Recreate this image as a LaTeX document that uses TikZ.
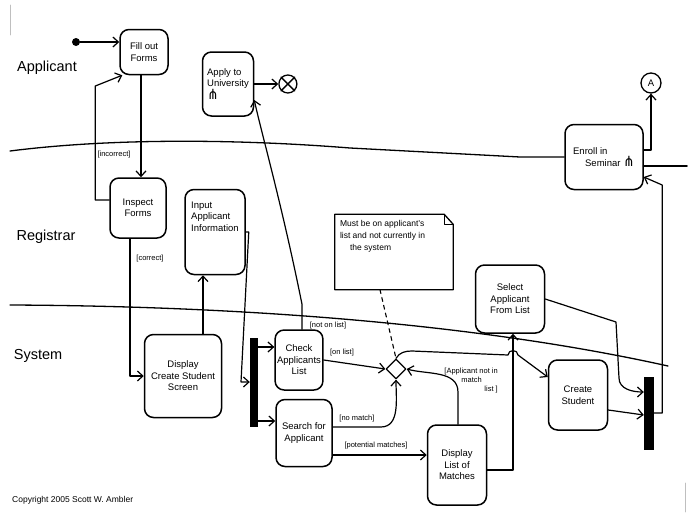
\documentclass[tikz,border=0pt]{standalone}
\usepackage{fontspec}
\setmainfont{Liberation Sans}
\newfontfamily\rakefont{DejaVu Sans}
\usetikzlibrary{arrows.meta,calc,positioning,shapes.geometric}
\newcommand{\rakesym}{{\rakefont\fontsize{14}{11}\selectfont ⋔}}
\tikzset{flow/.style={line width=1.2pt, -{Straight Barb[length=5.5pt,width=10pt]}},
  act/.style={draw, line width=1.5pt, rounded corners=9pt, align=center, inner sep=2pt,
    font=\fontsize{9.5}{11.5}\selectfont},
  guard/.style={inner sep=1pt, font=\fontsize{7.5}{9}\selectfont},
  lane/.style={line width=1.3pt},
  lanelbl/.style={font=\fontsize{14.5}{16}\selectfont},
  bar/.style={fill=black, inner sep=0pt, minimum width=8pt}}

\begin{document}
\begin{tikzpicture}[x=1pt, y=-1pt, line cap=round, line join=round, node distance=8mm]
  \useasboundingbox (0,0) rectangle (699,517);
  % lane names
  \node[lanelbl] (lapp) at (47,68) {Applicant};
  \node[lanelbl] (lreg) at (46,237) {Registrar};
  \node[lanelbl] (lsys) at (38,356) {System};

  % applicant lane
  \node[fill=black, circle, inner sep=0pt, minimum size=8pt] (start) at (76,42) {};
  \node[act, minimum width=48pt, minimum height=45pt] (fill) at (144,52) {Fill out\\Forms};
  \node[act, minimum width=51pt, minimum height=64pt, align=left] (apply) at (228,84) {Apply to\\University\\\rakesym};
  \node[draw, circle, line width=1.3pt, minimum size=18pt, inner sep=0pt, right=24pt of apply] (final) {};
  \draw[line width=1.3pt] (final.45) -- (final.225) (final.135) -- (final.-45);
  \node[act, minimum width=78pt, minimum height=65pt, align=left] (enroll) at (604,157) {Enroll in\\\hspace*{12pt}Seminar \rakesym};
  \node[draw, circle, line width=1.3pt, minimum size=20pt, inner sep=0pt, font=\fontsize{9.5}{10}\selectfont] (conA) at (651,83) {A};

  % registrar lane
  \node[act, minimum width=56pt, minimum height=60pt] (inspect) at (138,208) {Inspect\\Forms};
  \node[act, minimum width=60pt, minimum height=85pt, align=left] (input) at (215,232) {Input\\Applicant\\Information\\[20pt]\mbox{}};
  \node[minimum width=118pt, minimum height=75pt, inner sep=0pt] (note) at (394,252) {};
  \node[anchor=north west, align=left, inner sep=0pt, font=\fontsize{8.5}{12}\selectfont] (notetxt)
    at ([xshift=5pt,yshift=-6pt]note.north west) {Must be on applicant's\\list and not currently in\\\hspace*{10pt}the system};
  \draw[line width=1.3pt] (note.north west) -- ([xshift=-9pt]note.north east) -- ([yshift=-10pt]note.north east)
    -- (note.south east) -- (note.south west) -- cycle;
  \draw[line width=0.9pt] ([xshift=-9pt]note.north east) -- ([xshift=-9pt,yshift=-10pt]note.north east) -- ([yshift=-10pt]note.north east);
  \node[act, minimum width=69pt, minimum height=68pt] (select) at (510,299) {Select\\Applicant\\From List};

  % system lane
  \node[act, minimum width=77pt, minimum height=83pt] (dcss) at (183,376) {Display\\Create Student\\Screen};
  \node[bar, minimum height=89pt] (bar1) at (254,382) {};
  \node[act, minimum width=46pt, minimum height=60pt] (check) at (299,360) {Check\\Applicants\\List};
  \node[act, minimum width=56pt, minimum height=67pt] (search) at (304,433) {Search for\\Applicant};
  \node[diamond, draw, line width=1.3pt, fill=white, minimum size=20pt, inner sep=0pt] (dia) at (396,369) {};
  \node[act, minimum width=59pt, minimum height=80pt] (dlm) at (457,465) {Display\\List of\\Matches};
  \node[act, minimum width=59pt, minimum height=70pt] (create) at (578,395) {Create\\Student};
  \node[bar, minimum width=10pt, minimum height=73pt] (bar2) at (649,413) {};

  % lane dividers
  \draw[lane] (10,151) .. controls (120,137) and (250,140) .. (350,148) -- (520,157) -- (enroll.west);
  \draw[lane, line width=2.4pt] ([yshift=-9pt]enroll.east) -- ++(43,0);
  \draw[lane] (10,305) .. controls (230,306) and (470,322) .. (668,366);

  % flows
  \draw[flow] (start) -- (start -| fill.west);
  \draw[flow] ([xshift=-3pt]fill.south) -- ([xshift=-3pt]fill.south |- inspect.north);
  \draw[flow] ([yshift=8pt]inspect.west) -- ++(-14,0) -- ++(0,-114) -- ([xshift=3pt]fill.south west);
  \draw[flow] ([xshift=-8pt]inspect.south) |- (dcss.west);
  \draw[flow] ([xshift=20pt]dcss.north) -- ([xshift=20pt]dcss.north |- input.south);
  \draw[flow] (input.east) -- ++(3,0) -- (241,382) -- (bar1.west);
  \draw[flow] ([yshift=35pt]bar1.east) -- ([yshift=35pt]bar1.east -| check.west);
  \draw[flow] ([yshift=-39pt]bar1.east) -- ([yshift=-39pt]bar1.east -| search.west);
  \draw[flow] ([xshift=3pt]check.north) -- ++(0,-25) .. controls (282,205) and (262,135) .. ([yshift=-16pt]apply.east);
  \draw[flow] (apply.east) -- (final);
  \draw[flow] (check.east) -- (dia.west);
  \draw[flow] ([yshift=6pt]search.east) -- ++(48,0) to[out=0,in=-90] (dia.south);
  \draw[flow] ([yshift=-22pt]search.east) -- ([yshift=-22pt]search.east -| dlm.west);
  \draw[flow] ([xshift=1pt]dlm.north) -- ++(0,-32) to[out=90,in=-15] (dia.east);
  \draw[flow] (dia.north) to[out=60,in=180] (412,351) -- (508,355) to[out=90,in=90,looseness=1.5] (518,355)
    -- ([yshift=18pt]create.west);
  \draw[flow] ([yshift=-5pt]dlm.east) -| ([xshift=3pt]select.south);
  \draw[flow] (select.east) -- (616,322) -- (619,378) to[out=-90,in=180] ([yshift=21pt]bar2.west);
  \draw[flow] ([yshift=-15pt]create.east) -- ([yshift=-2pt]bar2.west);
  \draw[flow] (bar2.east) -- ++(8,0) -- ++(0,-228) -- ([yshift=-20pt]enroll.east);
  \draw[flow] ([yshift=7pt]enroll.east) -| (conA.south);
  \draw[line width=1.1pt, dash pattern=on 4pt off 4pt] ([xshift=-14pt]note.south) -- (dia.north);

  % guards
  \node[guard] (gincorrect) at (114,155) {[incorrect]};
  \node[guard] (gcorrect) at (150,259) {[correct]};
  \node[guard] (gnotonlist) at (328,326) {[not on list]};
  \node[guard] (gonlist) at (342,353) {[on list]};
  \node[guard] (gnomatch) at (357,419) {[no match]};
  \node[guard] (gpotential) at (376,446) {[potential matches]};
  \node[guard, align=right, anchor=north east] (gnotin) at (499,367) {[Applicant not in\\match\hspace*{16pt}\mbox{}\\list ]};

  % scan edges and credit
  \draw[gray!50, line width=0.8pt] (10,5) -- (10,35) (685,483) -- (685,512);
  \node[anchor=west, inner sep=0pt, font=\fontsize{8.5}{10}\selectfont] (credit) at (12,500) {Copyright 2005 Scott W. Ambler};
\end{tikzpicture}
\end{document}
